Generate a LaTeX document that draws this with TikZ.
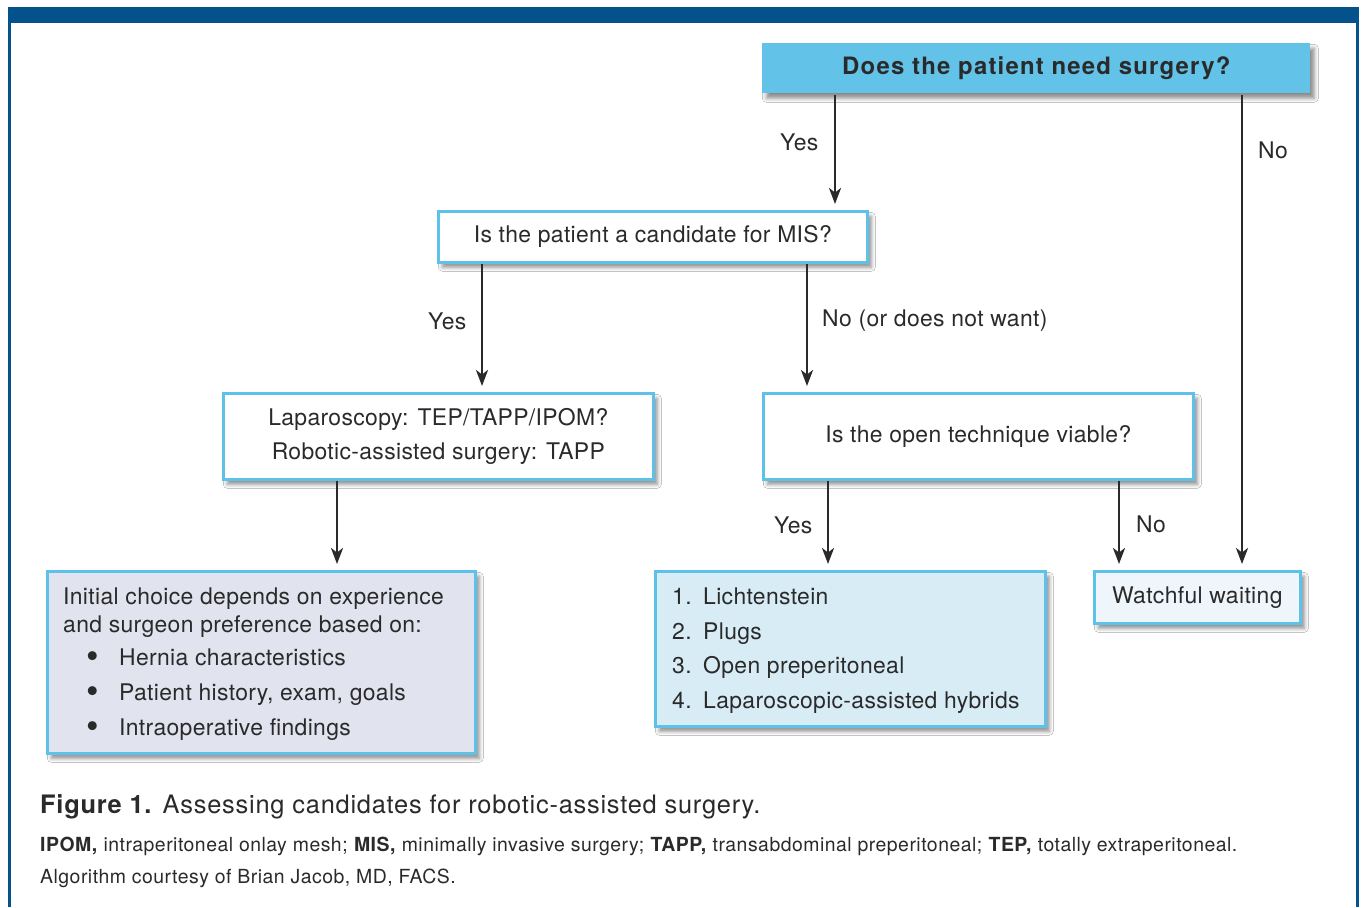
\documentclass[tikz,border=0pt]{standalone}
\usepackage{fontspec}
\setmainfont[LetterSpace=1.5]{TeX Gyre Heros}
\newfontfamily\titlefont[LetterSpace=5]{TeX Gyre Heros}
\newfontfamily\capfont[LetterSpace=3]{TeX Gyre Heros}
\newfontfamily\footfont[LetterSpace=2.5]{TeX Gyre Heros}
\usetikzlibrary{arrows.meta,shadows.blur}
\definecolor{frameblue}{HTML}{03528C}
\definecolor{titlefill}{HTML}{63C2E7}
\definecolor{boxline}{HTML}{5DC1EA}
\definecolor{lavfill}{HTML}{E1E3EE}
\definecolor{listfill}{HTML}{D8ECF6}
\definecolor{waitfill}{HTML}{EEF6FC}
\definecolor{txt}{HTML}{2A2A2A}
\begin{document}
\begin{tikzpicture}[x=1bp,y=-1bp, font=\fontsize{23}{28}\selectfont, text=txt,
  shad/.style={blur shadow={shadow xshift=4bp, shadow yshift=-5bp, shadow blur radius=4bp, shadow opacity=45}},
  box/.style={draw=boxline, line width=2.6bp, inner sep=0, anchor=north west, shad},
  arr/.style={line width=2.5bp, draw=txt, -{Stealth[length=16bp,width=12bp,inset=4.5bp]}, shorten >=6bp},
  lbl/.style={inner sep=0, anchor=base west},
  body/.style={inner sep=0, anchor=base west},
  bul/.style={inner sep=0, font=\fontsize{36}{36}\selectfont},
]
\useasboundingbox (0,0) rectangle (1363,907);
\fill[white] (0,0) rectangle (1363,907);
% frame
\fill[frameblue] (8,7) rectangle (1359,23);
\fill[frameblue] (8,23) rectangle (11,907);
\fill[frameblue] (1356,23) rectangle (1359,907);

% boxes
\node[box, draw=none, fill=titlefill, minimum width=548bp, minimum height=50bp,
  font=\titlefont\bfseries\fontsize{24}{28}\selectfont] (title) at (761,42) {Does the patient need surgery?};
\node[box, fill=white, minimum width=429bp, minimum height=51bp] (mis) at (437,210) {Is the patient a candidate for MIS?};
\node[box, fill=white, minimum width=430bp, minimum height=86bp, align=center,
  font=\fontsize{23}{34}\selectfont] (lap) at (222,392) {Laparoscopy: TEP/TAPP/IPOM?\\Robotic-assisted surgery: TAPP};
\node[box, fill=white, minimum width=430bp, minimum height=86bp] (open) at (762,392) {Is the open technique viable?};
\node[box, fill=lavfill, minimum width=428bp, minimum height=182bp] (init) at (46,570) {};
\node[box, fill=listfill, minimum width=390bp, minimum height=155bp] (list) at (654,570) {};
\node[box, fill=waitfill, minimum width=206bp, minimum height=52bp] (wait) at (1093,570) {Watchful waiting};

% box texts
\node[body] (i1) at (63,604) {Initial choice depends on experience};
\node[body] (i2) at (63,632) {and surgeon preference based on:};
\node[bul] (b1) at (93,660) {\textbullet};
\node[body] (i3) at (119,665) {Hernia characteristics};
\node[bul] (b2) at (93,695) {\textbullet};
\node[body] (i4) at (119,700) {Patient history, exam, goals};
\node[bul] (b3) at (93,730) {\textbullet};
\node[body] (i5) at (119,735) {Intraoperative findings};

\node[body] (n1) at (672,604) {1.};
\node[body] (l1) at (703,604) {Lichtenstein};
\node[body] (n2) at (672,639) {2.};
\node[body] (l2) at (703,639) {Plugs};
\node[body] (n3) at (672,673) {3.};
\node[body] (l3) at (703,673) {Open preperitoneal};
\node[body] (n4) at (672,708) {4.};
\node[body] (l4) at (703,708) {Laparoscopic-assisted hybrids};

% connectors
\draw[arr] (title.south -| 835,0) -- (mis.north -| 835,0);
\draw[arr] (title.south -| 1242,0) -- (wait.north -| 1242,0);
\draw[arr] (mis.south -| 482,0) -- (lap.north -| 482,0);
\draw[arr] (mis.south -| 807,0) -- (open.north -| 807,0);
\draw[arr] (lap.south -| 337,0) -- (init.north -| 337,0);
\draw[arr] (open.south -| 828,0) -- (list.north -| 828,0);
\draw[arr] (open.south -| 1119,0) -- (wait.north -| 1119,0);

% labels
\node[lbl] (y1) at (780,150) {Yes};
\node[lbl] (no1) at (1258,158) {No};
\node[lbl] (y2) at (428,329) {Yes};
\node[lbl] (no2) at (822,326) {No (or does not want)};
\node[lbl] (y3) at (774,533) {Yes};
\node[lbl] (no3) at (1136,532) {No};

% caption
\node[body, font=\capfont\fontsize{25.5}{28}\selectfont] (cap) at (40,813) {\textbf{Figure 1.} Assessing candidates for robotic-assisted surgery.};
\node[body, font=\footfont\fontsize{19.5}{22}\selectfont] (foot1) at (40,851) {\textbf{IPOM,} intraperitoneal onlay mesh; \textbf{MIS,} minimally invasive surgery; \textbf{TAPP,} transabdominal preperitoneal; \textbf{TEP,} totally extraperitoneal.};
\node[body, font=\footfont\fontsize{19.5}{22}\selectfont] (foot2) at (40,883) {Algorithm courtesy of Brian Jacob, MD, FACS.};
\end{tikzpicture}
\end{document}
